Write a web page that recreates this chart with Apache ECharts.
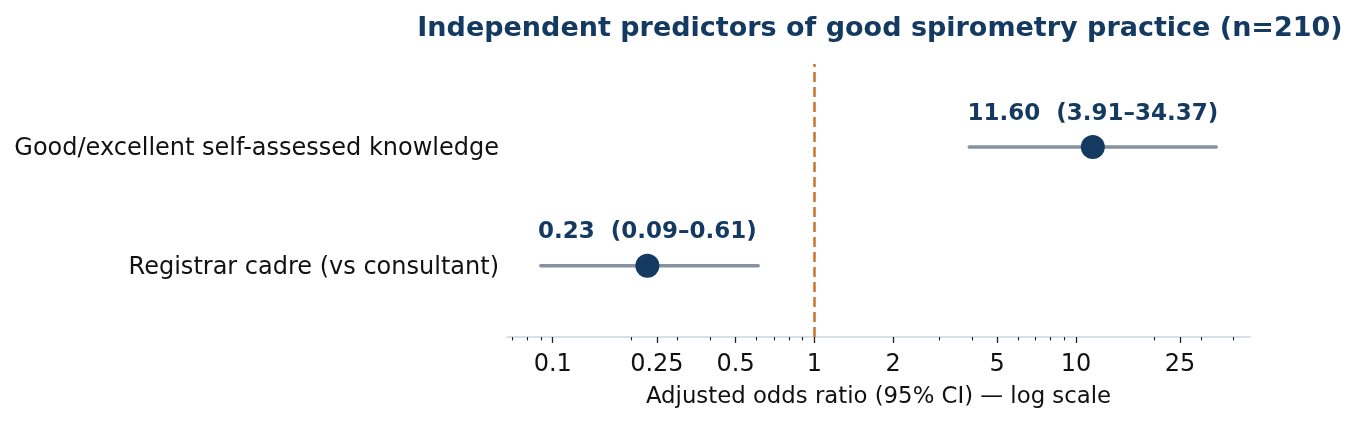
<!DOCTYPE html>
<html>
<head>
<meta charset="utf-8">
<script src="https://cdn.jsdelivr.net/npm/echarts@6/dist/echarts.min.js"></script>
<style>
html,body{margin:0;padding:0;background:#fff;}
#chart{width:1357px;height:422px;}
</style>
</head>
<body>
<div id="chart"></div>
<script>
// ---- data ----
const categories = ['Registrar cadre (vs consultant)', 'Good/excellent self-assessed knowledge'];
const oddsRatios = [0.23, 11.60];
const ciLow = [0.09, 3.91];
const ciHigh = [0.61, 34.37];
const pointLabels = ['0.23  (0.09\u20130.61)', '11.60  (3.91\u201334.37)'];
const majorTicks = [0.1, 0.25, 0.5, 1, 2, 5, 10, 25];
const majorTickLabels = ['0.1', '0.25', '0.5', '1', '2', '5', '10', '25'];
const minorTicks = [0.07, 0.08, 0.09, 0.2, 0.3, 0.4, 0.6, 0.7, 0.8, 0.9, 3, 4, 6, 7, 8, 9, 20, 30, 40];
const referenceOR = 1;
const titleText = 'Independent predictors of good spirometry practice (n=210)';
const xAxisName = 'Adjusted odds ratio (95% CI) \u2014 log scale';

// ---- build ----
const L = v => Math.log10(v);
const logLo = L(Math.min(...ciLow)), logHi = L(Math.max(...ciHigh));
const pad = 0.05 * (logHi - logLo);
const xMin = logLo - pad, xMax = logHi + pad;

const NAVY = '#143a61';
const FONT = 'DejaVu Sans';

const ciData = categories.map((c, i) => [L(ciLow[i]), L(ciHigh[i]), i]);
const ptData = categories.map((c, i) => ({value: [L(oddsRatios[i]), i], label: {formatter: pointLabels[i]}}));

const chart = echarts.init(document.getElementById('chart'));
chart.setOption({
  animation: false,
  title: {
    text: titleText,
    left: 875, top: 10, textAlign: 'center',
    textStyle: {fontFamily: FONT, fontSize: 27, fontWeight: 'bold', color: NAVY}
  },
  grid: {left: 507, right: 107, top: 64, bottom: 85},
  xAxis: [{
    type: 'value', min: xMin, max: xMax, position: 'bottom',
    splitLine: {show: false},
    axisLine: {show: true, onZero: false, lineStyle: {color: '#cdd6df', width: 1.5}},
    axisTick: {show: true, customValues: majorTicks.map(L), length: 6, lineStyle: {color: '#222', width: 1.3}},
    axisLabel: {
      customValues: majorTicks.map(L), margin: 16,
      fontFamily: FONT, fontSize: 24, color: '#111',
      formatter: v => { const k = majorTicks.findIndex(t => Math.abs(L(t) - v) < 1e-6); return k >= 0 ? majorTickLabels[k] : ''; }
    },
    name: xAxisName, nameLocation: 'middle', nameGap: 49,
    nameTextStyle: {fontFamily: FONT, fontSize: 22.8, color: '#111'}
  }, {
    type: 'value', min: xMin, max: xMax, position: 'bottom',
    splitLine: {show: false},
    axisLine: {show: false, onZero: false},
    axisTick: {show: true, customValues: minorTicks.map(L), length: 3.5, lineStyle: {color: '#222', width: 1.1}},
    axisLabel: {show: false}
  }],
  yAxis: {
    type: 'value', min: -0.6, max: 1.7,
    splitLine: {show: false}, axisLine: {show: false}, axisTick: {show: false},
    axisLabel: {
      customValues: categories.map((c, i) => i), margin: 8,
      fontFamily: FONT, fontSize: 24, color: '#111',
      formatter: v => '{c|' + categories[Math.round(v)] + '}',
      rich: {c: {fontFamily: FONT, fontSize: 24, color: '#111', padding: [4, 0, 0, 0]}}
    }
  },
  series: [{
    type: 'custom',
    data: ciData,
    renderItem: (params, api) => {
      const a = api.coord([api.value(0), api.value(2)]);
      const b = api.coord([api.value(1), api.value(2)]);
      return {type: 'line', shape: {x1: a[0], y1: a[1], x2: b[0], y2: b[1]},
        style: {stroke: '#86929f', lineWidth: 3.5, lineCap: 'round'}};
    },
    encode: {x: [0, 1], y: 2},
    z: 2
  }, {
    type: 'scatter',
    data: ptData,
    symbol: 'circle', symbolSize: 24,
    itemStyle: {color: NAVY, opacity: 1},
    label: {show: true, position: 'top', distance: 10,
      fontFamily: FONT, fontSize: 23, fontWeight: 'bold', color: NAVY},
    z: 3,
    markLine: {
      silent: true, symbol: 'none', label: {show: false},
      lineStyle: {color: '#c8742f', width: 2.5, type: [10, 5]},
      data: [{xAxis: L(referenceOR)}]
    }
  }]
});
</script>
</body>
</html>
